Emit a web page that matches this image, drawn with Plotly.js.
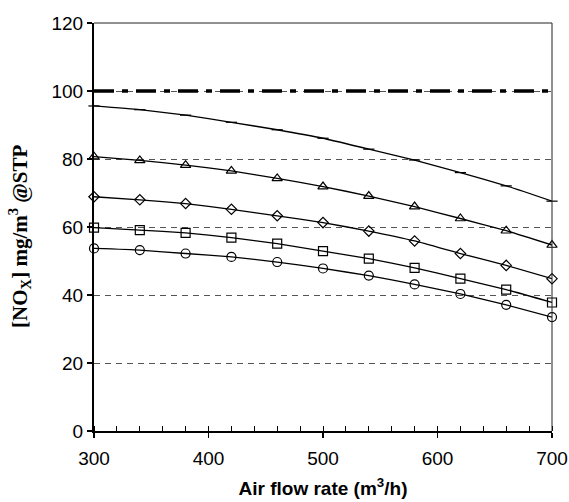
<!DOCTYPE html>
<html>
<head>
<meta charset="utf-8">
<script src="https://cdn.plot.ly/plotly-3.0.1.min.js"></script>
<style>html,body{margin:0;padding:0;background:#fff}#chart{width:569px;height:502px}</style>
</head>
<body>
<div id="chart"></div>
<script>
var airFlow = [300, 340, 380, 420, 460, 500, 540, 580, 620, 660, 700];
var seriesDash = [95.6, 94.5, 92.9, 90.8, 88.6, 86.1, 82.9, 79.7, 76.0, 72.1, 67.6];
var seriesTriangle = [80.7, 79.6, 78.2, 76.5, 74.3, 71.9, 69.1, 66.0, 62.5, 58.9, 54.7];
var seriesDiamond = [68.9, 68.0, 66.9, 65.2, 63.3, 61.3, 58.8, 55.9, 52.2, 48.7, 44.8];
var seriesSquare = [59.8, 59.1, 58.3, 56.9, 55.1, 52.9, 50.7, 48.0, 44.8, 41.6, 37.8];
var seriesCircle = [53.7, 53.2, 52.2, 51.2, 49.7, 47.8, 45.7, 43.1, 40.3, 37.1, 33.5];
var limitX = [300, 700];
var limitY = [100, 100];

function s(y, sym, size) {
  return {
    x: airFlow, y: y, type: 'scatter', mode: 'lines+markers',
    line: {color: '#000', width: 1.3, shape: 'spline', smoothing: 0.4},
    marker: {symbol: sym, size: size, color: '#000', line: {color: '#000', width: 1.2}},
    showlegend: false, cliponaxis: false
  };
}
var traces = [
  {x: limitX, y: limitY, type: 'scatter', mode: 'lines',
   line: {color: '#000', width: 3.5, dash: '20px,8px,6px,8px'}, showlegend: false},
  s(seriesDash, 'line-ew', 8),
  s(seriesTriangle, 'triangle-up-open', 9),
  s(seriesDiamond, 'diamond-open', 8),
  s(seriesSquare, 'square-open', 9),
  s(seriesCircle, 'circle-open', 9)
];
var layout = {
  width: 569, height: 502,
  margin: {l: 94, r: 17, t: 23, b: 71},
  paper_bgcolor: '#fff', plot_bgcolor: '#fff',
  font: {family: 'Liberation Sans, Arial, sans-serif', size: 19, color: '#000'},
  xaxis: {
    range: [300, 700], tickvals: [300, 400, 500, 600, 700],
    ticks: 'outside', ticklen: 5, tickwidth: 1.5, tickcolor: '#000',
    showline: true, linecolor: '#000', linewidth: 2, zeroline: false, showgrid: false,
    minor: {ticks: 'inside', dtick: 20, ticklen: 5, tickwidth: 1, tickcolor: '#000'},
    tickfont: {size: 19}, ticklabelstandoff: 4,
    title: {text: '<b>Air flow rate (m<sup>3</sup>/h)</b>', font: {size: 19}, standoff: 14}
  },
  yaxis: {
    range: [0, 120], tickvals: [0, 20, 40, 60, 80, 100, 120],
    ticks: 'outside', ticklen: 5, tickwidth: 1.5, tickcolor: '#000',
    showline: true, linecolor: '#000', linewidth: 2, zeroline: false,
    showgrid: true, gridcolor: '#555', gridwidth: 1, griddash: '6px,5px',
    tickfont: {size: 19}
  },
  annotations: [
    {text: '<b>[NO<sub>X</sub>] mg/m<sup>3</sup> @STP</b>', textangle: -90,
     xref: 'paper', yref: 'paper', x: -0.1616, y: 0.478, xanchor: 'center', yanchor: 'middle',
     showarrow: false, font: {family: 'Liberation Serif, Times New Roman, serif', size: 21, color: '#000'}}
  ],
  shapes: [
    {type: 'line', xref: 'x domain', yref: 'y domain', x0: 0, x1: 1, y0: 1, y1: 1, line: {color: '#222', width: 1}},
    {type: 'line', xref: 'x domain', yref: 'y domain', x0: 1, x1: 1, y0: 0, y1: 1, line: {color: '#222', width: 1}}
  ]
};
Plotly.newPlot('chart', traces, layout, {displayModeBar: false, staticPlot: true});
</script>
</body>
</html>
